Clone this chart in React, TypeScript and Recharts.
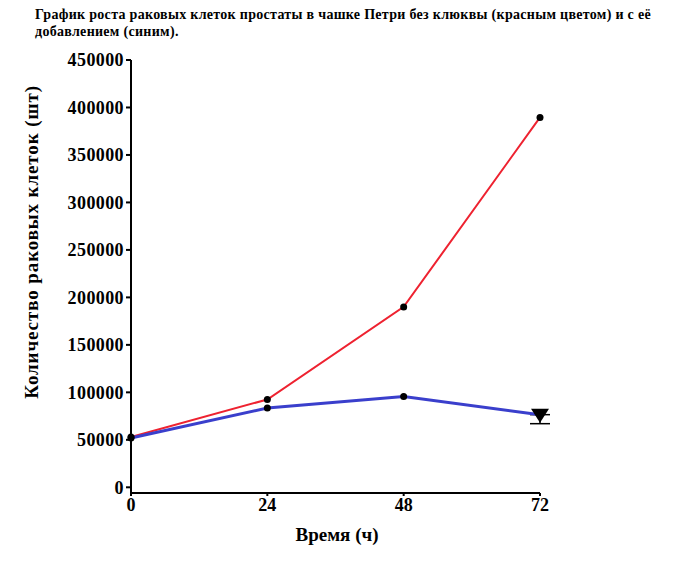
import { LineChart, Line, XAxis, YAxis, ErrorBar } from "recharts";

const hours = [0, 24, 48, 72];
const redCells = [53000, 92500, 190000, 389500];
const blueCells = [52000, 83500, 95500, 76500];
// error shown only below the last blue point
const blueErr: (number[] | undefined)[] = [undefined, undefined, undefined, [9500, 0]];
const yTicks = [0, 50000, 100000, 150000, 200000, 250000, 300000, 350000, 400000, 450000];
const xTicks = [0, 24, 48, 72];

const data = hours.map((h, i) => ({
  h,
  red: redCells[i],
  blue: blueCells[i],
  err: blueErr[i],
}));

const FONT = "'Liberation Serif', 'Times New Roman', serif";

function BlueDot(props: any) {
  const { cx, cy, index } = props;
  if (cx == null || cy == null) return null;
  if (index === hours.length - 1) {
    return <path d={`M${cx - 9},${cy - 6} L${cx + 9},${cy - 6} L${cx},${cy + 8} Z`} fill="#000" />;
  }
  return <circle cx={cx} cy={cy} r={3.5} fill="#000" />;
}

export default function App() {
  return (
    <div style={{ position: "absolute", left: 0, top: 0, width: 696, height: 564, background: "#fff", fontFamily: FONT }}>
      <div
        style={{
          position: "absolute",
          left: 35,
          top: 6,
          width: 640,
          fontSize: 14,
          letterSpacing: 0.3,
          lineHeight: "17px",
          fontWeight: "bold",
          color: "#000",
        }}
      >
        График роста раковых клеток простаты в чашке Петри без клюквы (красным цветом) и с её добавлением (синим).
      </div>
      <LineChart
        width={696}
        height={564}
        data={data}
        margin={{ top: 60, right: 156, bottom: 41, left: 61 }}
        style={{ position: "absolute", left: 0, top: 0 }}
      >
        <XAxis
          dataKey="h"
          type="number"
          domain={[0, 72]}
          ticks={xTicks}
          tickSize={3}
          tickLine={{ stroke: "#000", strokeWidth: 2 }}
          axisLine={{ stroke: "#000", strokeWidth: 2 }}
          tick={{ fill: "#000", fontSize: 18, fontWeight: "bold", fontFamily: FONT }}
          height={30}
          tickMargin={2}
        />
        <YAxis
          type="number"
          domain={[-6000, 450000]}
          ticks={yTicks}
          width={70}
          tickSize={5}
          tickLine={{ stroke: "#000", strokeWidth: 2 }}
          axisLine={{ stroke: "#000", strokeWidth: 2 }}
          tick={{ fill: "#000", fontSize: 18, fontWeight: "bold", fontFamily: FONT, letterSpacing: 0.4 }}
          tickMargin={2}
          interval={0}
        />
        <Line
          dataKey="red"
          stroke="#ee2230"
          strokeWidth={2}
          dot={{ r: 3.5, fill: "#000", stroke: "none" }}
          isAnimationActive={false}
        />
        <Line
          dataKey="blue"
          stroke="#3a3fcc"
          strokeWidth={3}
          dot={<BlueDot />}
          isAnimationActive={false}
        >
          <ErrorBar dataKey="err" direction="y" width={10} stroke="#000" strokeWidth={1.5} />
        </Line>
      </LineChart>
      <svg width={696} height={564} style={{ position: "absolute", left: 0, top: 0, pointerEvents: "none" }}>
        <text
          x={0}
          y={0}
          transform="translate(38,242) rotate(-90)"
          textAnchor="middle"
          fontSize={19}
          letterSpacing={0.9}
          fontWeight="bold"
          fontFamily={FONT}
          fill="#000"
        >
          Количество раковых клеток (шт)
        </text>
        <text x={337} y={541} textAnchor="middle" fontSize={19} fontWeight="bold" fontFamily={FONT} fill="#000">
          Время (ч)
        </text>
      </svg>
    </div>
  );
}
